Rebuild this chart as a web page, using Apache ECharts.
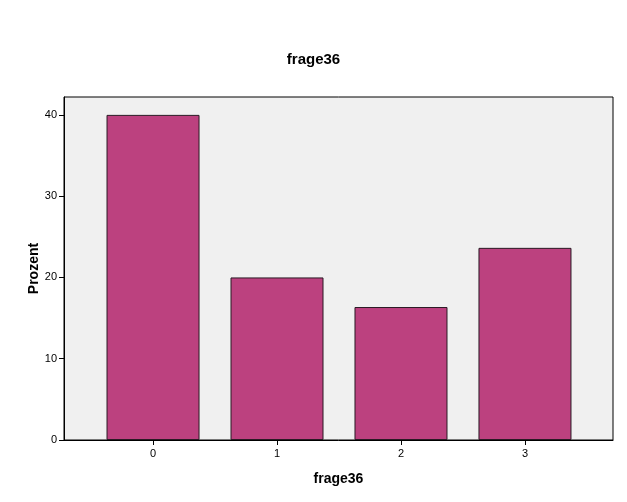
<!DOCTYPE html>
<html><head><meta charset="utf-8">
<script src="https://cdn.jsdelivr.net/npm/echarts@6/dist/echarts.min.js"></script>
<style>html,body{margin:0;padding:0;background:#fff}#c{width:627px;height:502px}</style>
</head><body><div id="c"></div>
<script>
const categories = ['0','1','2','3'];
const values = [40.0, 20.0, 16.36, 23.64];
const yTicks = [0,10,20,30,40];
const xPos = [0,1,2,3];

const chart = echarts.init(document.getElementById('c'), null, {renderer:'canvas'});
chart.setOption({
  animation:false,
  backgroundColor:'#ffffff',
  title:{text:'frage36', left:'center', top:47,
    textStyle:{fontFamily:'Liberation Sans, Arial', fontSize:15, fontWeight:'bold', color:'#000'}},
  grid:{left:64, right:14, top:97, bottom:62, show:true, backgroundColor:'#f0f0f0', borderColor:'#000', borderWidth:1},
  xAxis:{type:'value', min:-0.718, max:3.71,
    name:'frage36', nameLocation:'middle', nameGap:32, nameMoveOverlap:false,
    nameTextStyle:{fontFamily:'Liberation Sans, Arial', fontSize:14, fontWeight:'bold', color:'#000'},
    axisLine:{show:true, onZero:false, lineStyle:{color:'#000'}},
    axisTick:{show:true, length:5, lineStyle:{color:'#000'}, customValues:xPos},
    splitLine:{show:false},
    axisLabel:{fontFamily:'Liberation Sans, Arial', fontSize:11, color:'#000', margin:8,
      customValues:xPos, formatter:function(v){return categories[Math.round(v)];}}},
  yAxis:{type:'value', min:0, max:42.2, interval:10,
    name:'Prozent', nameLocation:'middle', nameGap:23, nameMoveOverlap:false,
    nameTextStyle:{fontFamily:'Liberation Sans, Arial', fontSize:14, fontWeight:'bold', color:'#000'},
    axisLine:{show:true, onZero:false, lineStyle:{color:'#000'}},
    axisTick:{show:true, length:5, lineStyle:{color:'#000'}, customValues:yTicks},
    splitLine:{show:false},
    axisLabel:{fontFamily:'Liberation Sans, Arial', fontSize:11, color:'#000', margin:7,
      customValues:yTicks}},
  series:[{type:'bar', data:xPos.map((x,i)=>[x, values[i]]), barWidth:93,
    itemStyle:{color:'#bc417f', borderColor:'#2a1a24', borderWidth:1}}]
});
</script></body></html>
